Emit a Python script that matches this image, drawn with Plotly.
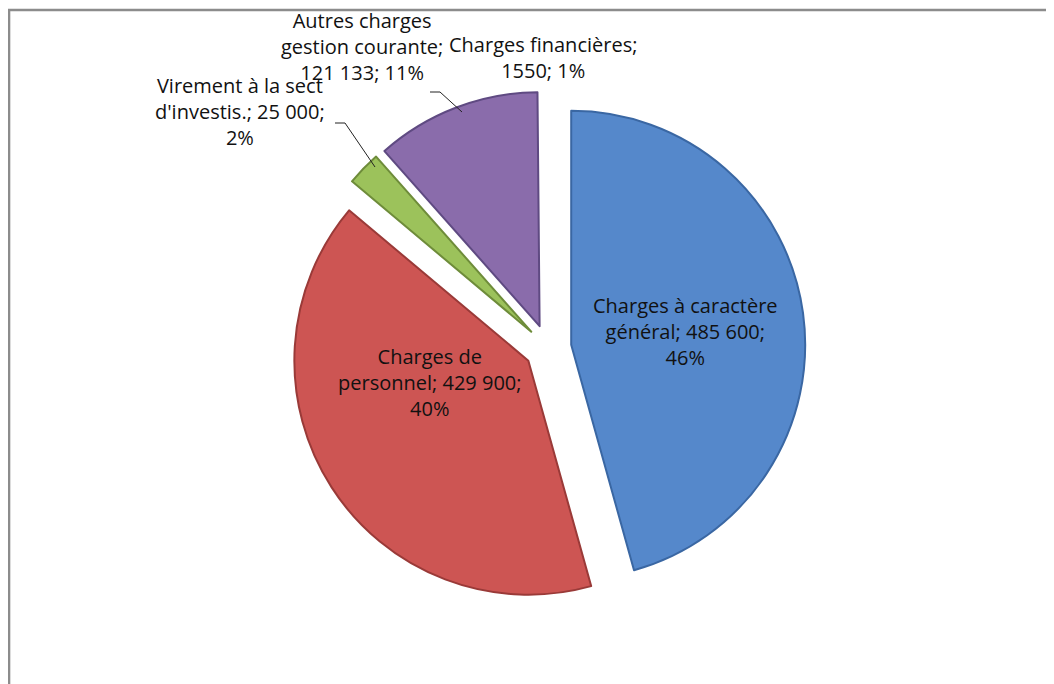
import plotly.graph_objects as go

# data
categories = [
    "Charges à caractère général",
    "Charges de personnel",
    "Virement à la sect d'investis.",
    "Autres charges gestion courante",
    "Charges financières",
]
values = [485600, 429900, 25000, 121133, 1550]
value_labels = ["485 600", "429 900", "25 000", "121 133", "1550"]
pct_labels = ["46%", "40%", "2%", "11%", "1%"]

colors = ["#5588cb", "#cd5553", "#9cc25b", "#8a6cab", "#ffffff"]
edges = ["#3a67a3", "#9a3a38", "#6e8c3a", "#5f4a82", "#ffffff"]

W, H = 1054, 684
OFF = 8  # page body margin
FONT = "Open Sans"


def px(x, y):
    # page pixel -> paper coords
    return (x - OFF) / W, 1 - (y - OFF) / H


fig = go.Figure(go.Pie(
    labels=categories,
    values=values,
    textinfo="none",
    sort=False,
    direction="clockwise",
    rotation=0,
    pull=[0.10] * 5,
    marker=dict(colors=colors, line=dict(color=edges, width=2)),
    domain=dict(x=[0.2681, 0.7566], y=[0.1266, 0.8792]),
    showlegend=False,
    hoverinfo="label+value+percent",
))

# data labels, Excel style
labels = [
    (f"Charges à caractère<br>général; {value_labels[0]};<br>{pct_labels[0]}", 685, 331),
    (f"Charges de<br>personnel; {value_labels[1]};<br>{pct_labels[1]}", 430, 382),
    (f"Autres charges<br>gestion courante;<br>{value_labels[3]}; {pct_labels[3]}", 362, 46),
    (f"Charges financières;<br>{value_labels[4]}; {pct_labels[4]}", 543, 58),
    (f"Virement à la sect<br>d'investis.; {value_labels[2]};<br>{pct_labels[2]}", 240, 111),
]
for txt, x, y in labels:
    xp, yp = px(x, y)
    fig.add_annotation(x=xp, y=yp, xref="paper", yref="paper", text=txt,
                       showarrow=False, xanchor="center", yanchor="middle",
                       font=dict(family=FONT, size=20, color="#111111"),
                       align="center")

leaders = [
    [(430, 92), (440, 92), (462, 112)],
    [(335, 123), (345, 123), (375, 167)],
]
for pts in leaders:
    path = ""
    for i, (x, y) in enumerate(pts):
        xp, yp = px(x, y)
        path += ("M" if i == 0 else "L") + f"{xp},{yp} "
    fig.add_shape(type="path", path=path, xref="paper", yref="paper",
                  line=dict(color="#222222", width=1))

# chart frame (top and left edges visible)
fig.add_shape(type="rect", xref="paper", yref="paper", x0=0.001, y0=-0.05, x1=1.05, y1=0.997,
              line=dict(color="#8c8c8c", width=2.5))

fig.update_layout(
    width=W, height=H,
    margin=dict(l=0, r=0, t=0, b=0),
    paper_bgcolor="white",
    plot_bgcolor="white",
)

fig.write_html("out.html")
